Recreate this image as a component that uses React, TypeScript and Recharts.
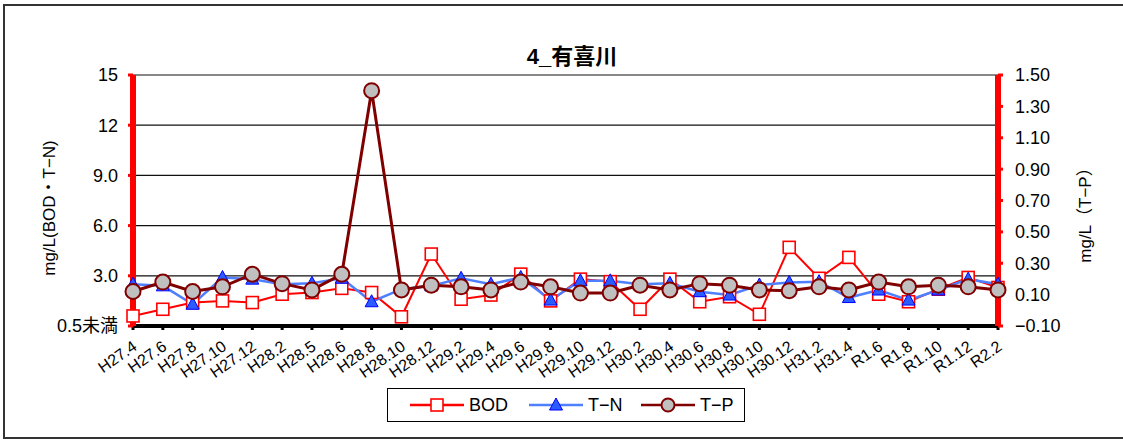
import { LineChart, Line, XAxis, YAxis, CartesianGrid } from 'recharts'

const months = [
  'H27.4', 'H27.6', 'H27.8', 'H27.10', 'H27.12', 'H28.2', 'H28.5', 'H28.6', 'H28.8', 'H28.10',
  'H28.12', 'H29.2', 'H29.4', 'H29.6', 'H29.8', 'H29.10', 'H29.12', 'H30.2', 'H30.4', 'H30.6',
  'H30.8', 'H30.10', 'H30.12', 'H31.2', 'H31.4', 'R1.6', 'R1.8', 'R1.10', 'R1.12', 'R2.2',
]

const bod = [
  0.6, 1.0, 1.4, 1.5, 1.4, 1.9, 2.0, 2.25, 2.0, 0.55,
  4.3, 1.6, 1.85, 3.1, 1.5, 2.8, 2.65, 1.0, 2.8, 1.45,
  1.75, 0.7, 4.7, 2.85, 4.1, 1.9, 1.45, 2.2, 2.9, 2.3,
]

const tn = [
  2.5, 2.4, 1.3, 2.9, 2.8, 2.5, 2.55, 2.85, 1.45, 2.2,
  2.4, 2.85, 2.5, 2.9, 1.55, 2.7, 2.7, 2.5, 2.55, 2.05,
  1.85, 2.45, 2.6, 2.65, 1.7, 2.15, 1.55, 2.15, 2.8, 2.5,
]

const tp = [
  0.12, 0.18, 0.12, 0.15, 0.23, 0.17, 0.13, 0.23, 1.4, 0.13,
  0.16, 0.15, 0.13, 0.18, 0.15, 0.11, 0.11, 0.16, 0.13, 0.17,
  0.16, 0.13, 0.125, 0.15, 0.13, 0.18, 0.15, 0.16, 0.15, 0.13,
]

const leftTicks = [0, 3, 6, 9, 12, 15]
const rightTicks = [-0.1, 0.1, 0.3, 0.5, 0.7, 0.9, 1.1, 1.3, 1.5]

const data = months.map((m, i) => ({ month: m, bod: bod[i], tn: tn[i], tp: tp[i] }))

const FONT = '"Liberation Sans", "Noto Sans CJK JP", sans-serif'

// 左軸ラベル
const fmtLeft = (v: number) => {
  if (v === 0) return '0.5未満'
  if (v >= 10) return String(v)
  return v.toFixed(1)
}

const fmtRight = (v: number) => (v < 0 ? '−' + Math.abs(v).toFixed(2) : v.toFixed(2))

const XTick = (props: any) => {
  const { x, y, payload } = props
  return (
    <g transform={`translate(${x + 5},${y + 17})`}>
      <text x={0} y={0} textAnchor="end" transform="rotate(-35)" fontSize={16} fill="#000" fontFamily={FONT}>
        {payload.value}
      </text>
    </g>
  )
}

const SquareDot = (props: any) => {
  const { cx, cy, index } = props
  return <rect key={'s' + index} x={cx - 6} y={cy - 6} width={12} height={12} fill="#fff" stroke="#ff0000" strokeWidth={1.6} />
}

const TriDot = (props: any) => {
  const { cx, cy, index } = props
  return (
    <polygon
      key={'t' + index}
      points={`${cx},${cy - 7} ${cx - 6.5},${cy + 5} ${cx + 6.5},${cy + 5}`}
      fill="#2b5cff"
      stroke="#0000ff"
      strokeWidth={1}
    />
  )
}

const CircleDot = (props: any) => {
  const { cx, cy, index } = props
  return <circle key={'c' + index} cx={cx} cy={cy} r={7.5} fill="#c0c0c0" stroke="#800000" strokeWidth={2} />
}

function LegendBox() {
  const item = (label: string, color: string, marker: React.ReactNode, w: number) => (
    <div style={{ display: 'flex', alignItems: 'center', width: w }}>
      <svg width={54} height={20}>
        <line x1={0} y1={10} x2={54} y2={10} stroke={color} strokeWidth={2.5} />
        {marker}
      </svg>
      <span style={{ marginLeft: 5, fontSize: 18 }}>{label}</span>
    </div>
  )
  return (
    <div
      style={{
        position: 'absolute',
        left: 387,
        top: 388,
        width: 358,
        height: 34,
        border: '1px solid #000',
        display: 'flex',
        alignItems: 'center',
        paddingLeft: 22,
        boxSizing: 'border-box',
        fontFamily: FONT,
      }}
    >
      {item('BOD', '#ff0000', <rect x={21} y={4} width={12} height={12} fill="#fff" stroke="#ff0000" strokeWidth={1.6} />, 119)}
      {item('T−N', '#4d7fff', <polygon points="27,3 20.5,15 33.5,15" fill="#2b5cff" stroke="#0000ff" />, 112)}
      {item('T−P', '#800000', <circle cx={27} cy={10} r={6.5} fill="#c0c0c0" stroke="#800000" strokeWidth={2} />, 100)}
    </div>
  )
}

export default function App() {
  return (
    <div style={{ position: 'absolute', left: 0, top: 0, width: 1123, height: 440, overflow: 'hidden', background: '#fff' }}>
      <div
        style={{
          position: 'absolute',
          left: 3,
          top: 4,
          width: 1140,
          height: 435,
          border: '2px solid #333',
          boxSizing: 'border-box',
        }}
      />
      <LineChart
        width={1123}
        height={440}
        data={data}
        margin={{ top: 75, right: 0, bottom: 0, left: 0 }}
        style={{ position: 'absolute', left: 0, top: 0, fontFamily: FONT }}
      >
        <CartesianGrid yAxisId="l" vertical={false} stroke="#111" strokeWidth={1.2} horizontalValues={leftTicks} />
        <XAxis
          dataKey="month"
          interval={0}
          height={114}
          tick={<XTick />}
          axisLine={{ stroke: '#000', strokeWidth: 4 }}
          tickLine={{ stroke: '#000', strokeWidth: 3 }}
          tickSize={4}
        />
        <YAxis
          yAxisId="l"
          width={133}
          domain={[0, 15]}
          ticks={leftTicks}
          tickFormatter={fmtLeft}
          tick={{ fontSize: 18, fill: '#000' }}
          axisLine={{ stroke: '#ff0000', strokeWidth: 6 }}
          tickLine={{ stroke: '#ff0000', strokeWidth: 3 }}
          tickSize={5}
          tickMargin={10}
          allowDataOverflow
        />
        <YAxis
          yAxisId="r"
          orientation="right"
          width={125}
          domain={[-0.1, 1.5]}
          ticks={rightTicks}
          tickFormatter={fmtRight}
          tick={{ fontSize: 18, fill: '#000', textAnchor: 'start' }}
          axisLine={{ stroke: '#ff0000', strokeWidth: 6 }}
          tickLine={{ stroke: '#ff0000', strokeWidth: 3 }}
          tickSize={5}
          tickMargin={12}
          allowDataOverflow
        />
        <Line yAxisId="l" dataKey="bod" stroke="#ff0000" strokeWidth={2} dot={<SquareDot />} isAnimationActive={false} />
        <Line yAxisId="l" dataKey="tn" stroke="#4d7fff" strokeWidth={2.5} dot={<TriDot />} isAnimationActive={false} />
        <Line yAxisId="r" dataKey="tp" stroke="#800000" strokeWidth={3} dot={<CircleDot />} isAnimationActive={false} />
      </LineChart>
      <svg width={1123} height={440} style={{ position: 'absolute', left: 0, top: 0, pointerEvents: 'none', fontFamily: FONT }}>
        <text x={572} y={64} textAnchor="middle" fontSize={22} fontWeight="bold" fill="#000">
          4_有喜川
        </text>
        <text x={55} y={208} textAnchor="middle" fontSize={17} fill="#000" transform="rotate(-90 55 208)">
          mg/L(BOD・T−N)
        </text>
        <text x={1091} y={211} textAnchor="middle" fontSize={17} fill="#000" transform="rotate(-90 1091 211)">
          mg/L（T−P）
        </text>
      </svg>
      <LegendBox />
    </div>
  )
}
